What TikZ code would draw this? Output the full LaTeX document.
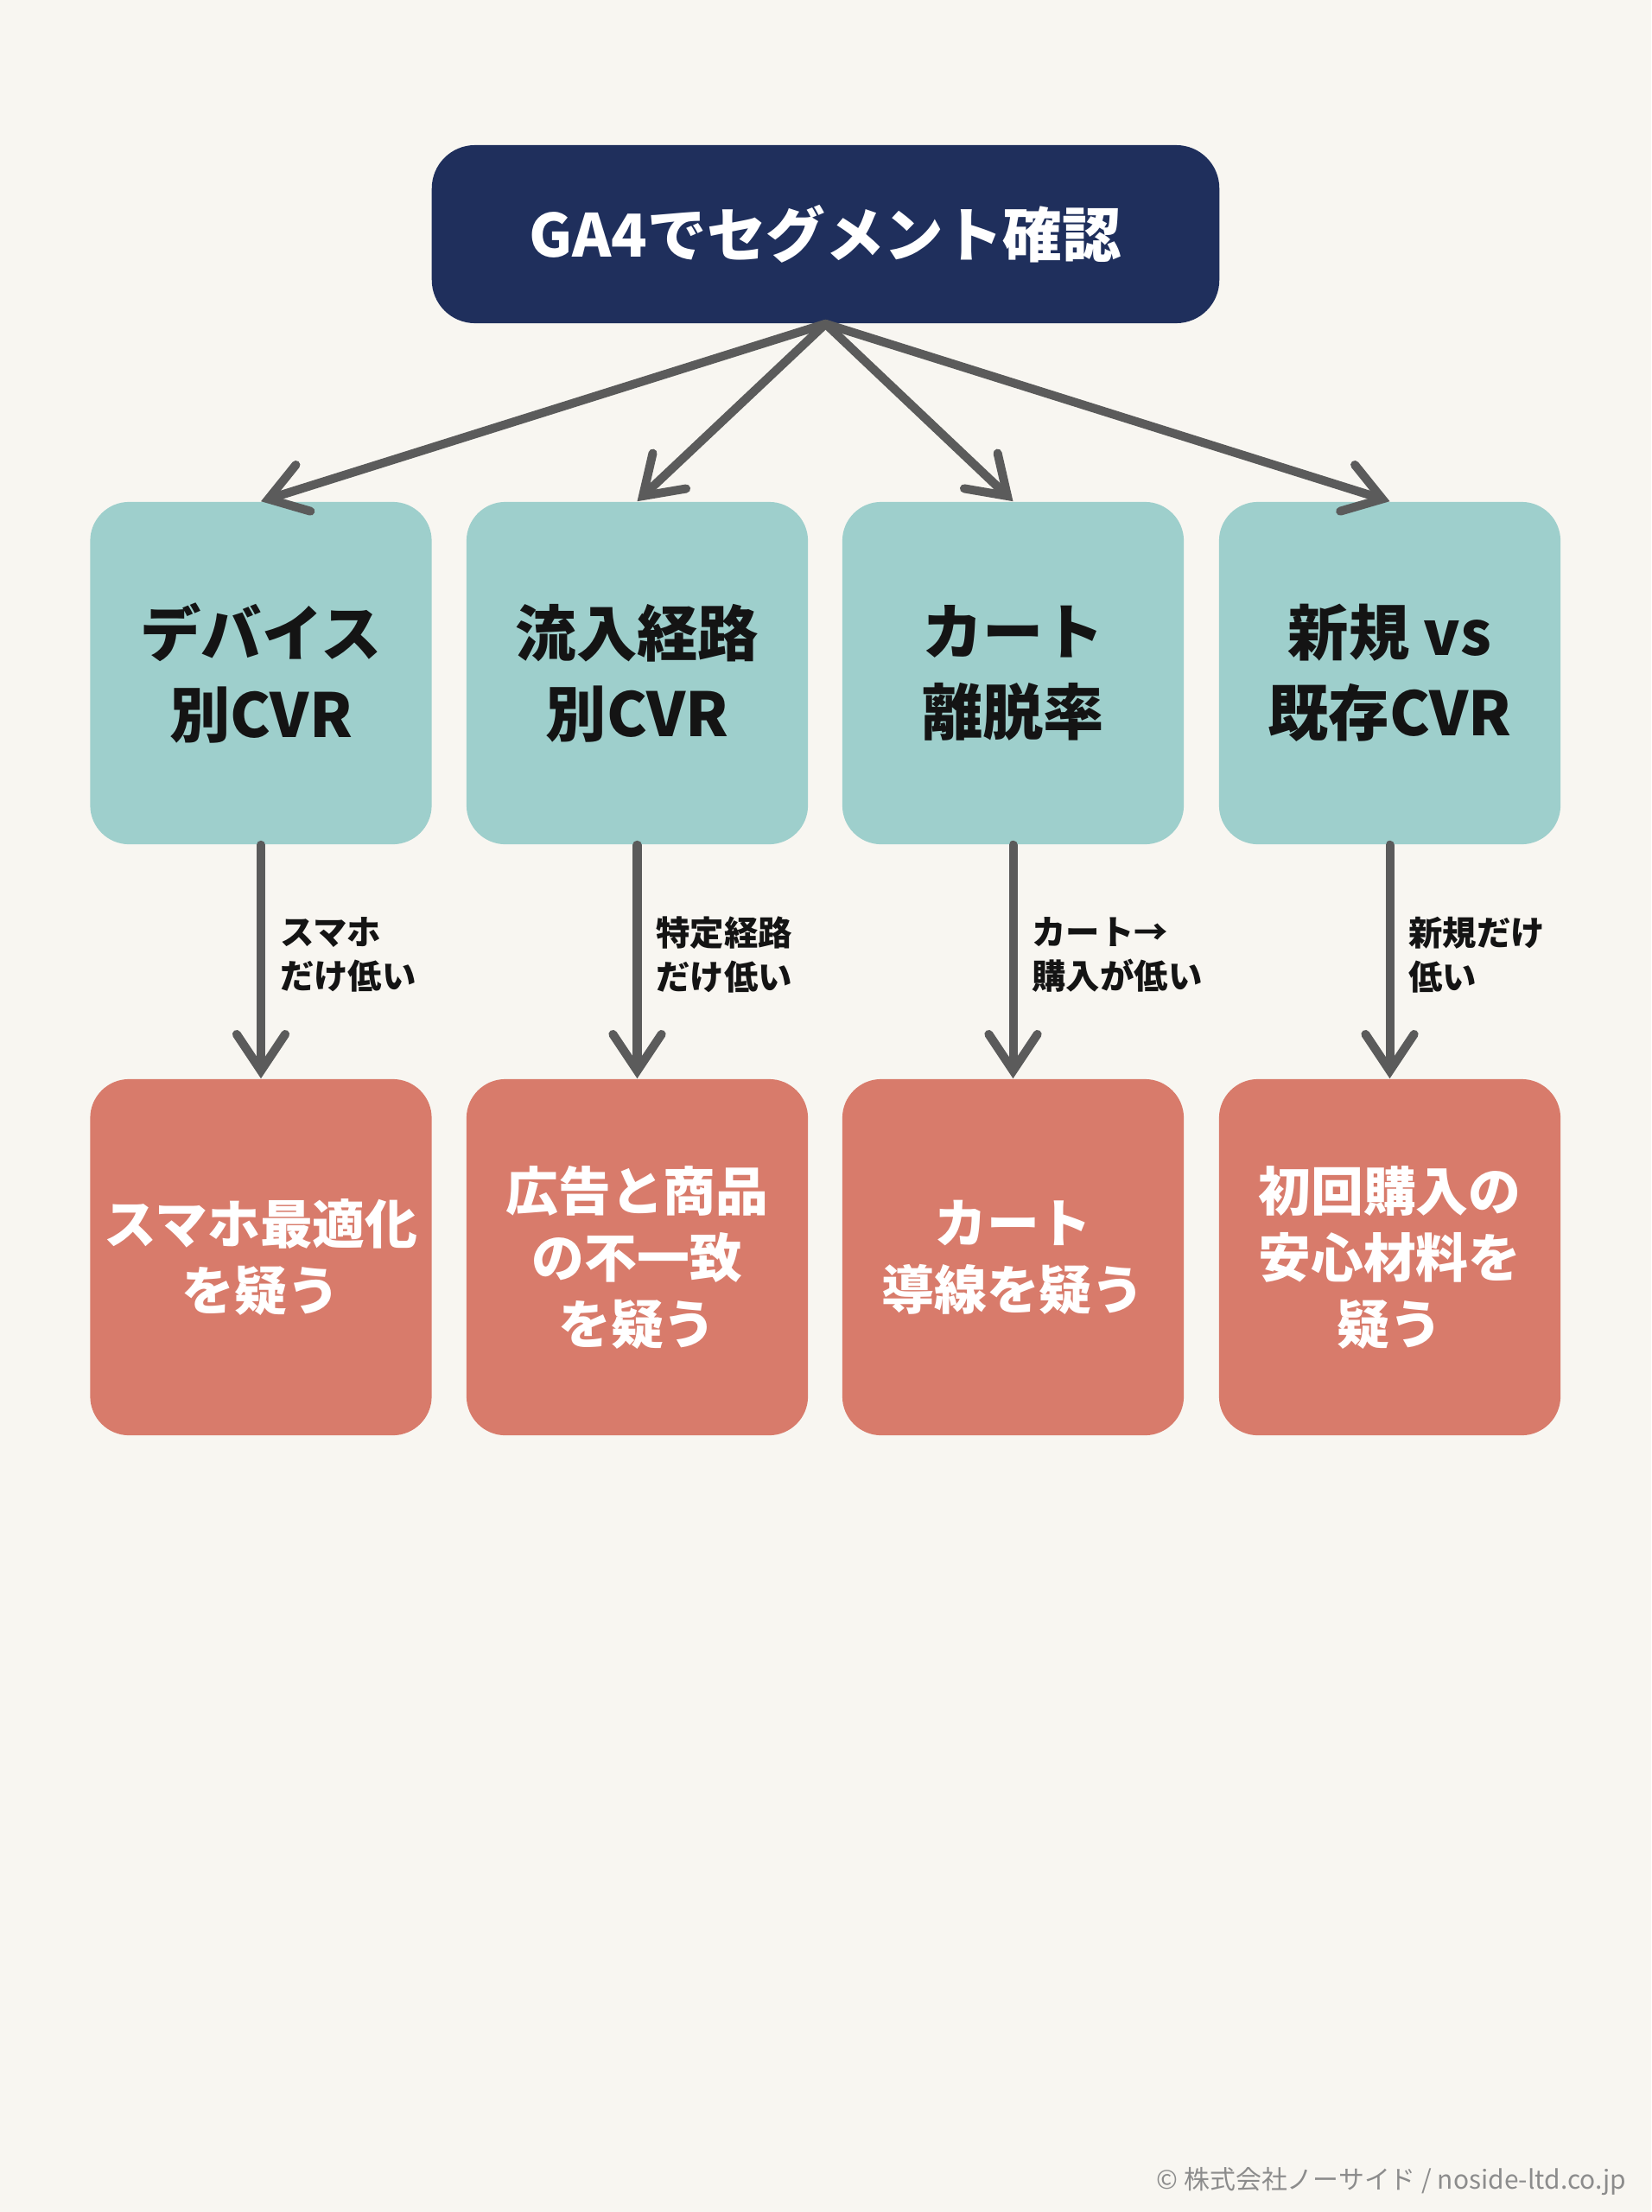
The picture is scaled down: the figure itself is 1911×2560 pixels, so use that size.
\documentclass[tikz,border=0pt]{standalone}
\usepackage{fontspec}
\setmainfont{Noto Sans CJK JP}
\usetikzlibrary{arrows.meta}
\definecolor{cbg}{HTML}{F8F6F1}
\definecolor{cnavy}{HTML}{1F2F5C}
\definecolor{cteal}{HTML}{9ECFCC}
\definecolor{csal}{HTML}{D87B6B}
\definecolor{carrow}{HTML}{5B5B5B}
\definecolor{cink}{HTML}{141414}
\definecolor{cfoot}{HTML}{8C8C8C}
\tikzset{
  topbox/.style={fill=cnavy, rounded corners=0.5cm, minimum width=9.11cm, minimum height=2.06cm, inner sep=0pt, text=white, align=center, font=\fontsize{19.5}{24}\selectfont\bfseries},
  midbox/.style={fill=cteal, rounded corners=0.45cm, minimum width=3.95cm, minimum height=3.96cm, inner sep=0pt, text=cink, align=center, font=\fontsize{20}{26.5}\selectfont\bfseries},
  botbox/.style={fill=csal, rounded corners=0.45cm, minimum width=3.95cm, minimum height=4.12cm, inner sep=0pt, text=white, align=center, font=\fontsize{17.3}{21.9}\selectfont\bfseries},
  conn/.style={draw=carrow, line width=2.85pt, line cap=round, -{Straight Barb[length=12pt, width=16pt, line cap=round]}},
  lbl/.style={anchor=west, inner sep=0pt, xshift=0.17cm, text=cink, align=left, font=\fontsize{11.2}{14.5}\selectfont\bfseries},
  foot/.style={anchor=east, inner sep=0pt, text=cfoot, font=\fontsize{8.5}{10}\selectfont}
}
\begin{document}
\begin{tikzpicture}[x=0.01cm, y=-0.01cm]
\fill[cbg] (0,0) rectangle (1911,2560);
\useasboundingbox (0,0) rectangle (1911,2560);

\node[topbox] (top) at (955.5,271) {GA4でセグメント確認};

\node[midbox] (m1) at (302,779) {デバイス\\別CVR};
\node[midbox] (m2) at (737.5,779) {流入経路\\別CVR};
\node[midbox] (m3) at (1172.5,779) {カート\\離脱率};
\node[midbox] (m4) at (1608.5,779) {新規 vs\\既存CVR};

\node[botbox] (b1) at (302,1455) {スマホ最適化\\を疑う};
\node[botbox] (b2) at (737.5,1455) {広告と商品\\の不一致\\を疑う};
\node[botbox] (b3) at (1172.5,1455) {カート\\導線を疑う};
\node[botbox] (b4) at (1608.5,1455) {初回購入の\\安心材料を\\疑う};

\draw[conn] (top.south) -- (m1.north);
\draw[conn] (top.south) -- (m2.north);
\draw[conn] (top.south) -- (m3.north);
\draw[conn] (top.south) -- (m4.north);

\draw[conn] (m1.south) -- node[lbl, pos=0.47] {スマホ\\だけ低い} (b1.north);
\draw[conn] (m2.south) -- node[lbl, pos=0.47] {特定経路\\だけ低い} (b2.north);
\draw[conn] (m3.south) -- node[lbl, pos=0.47] {カート→\\購入が低い} (b3.north);
\draw[conn] (m4.south) -- node[lbl, pos=0.47] {新規だけ\\低い} (b4.north);

\node[foot] (footer) at (1883,2525) {© 株式会社ノーサイド / noside-ltd.co.jp};
\end{tikzpicture}
\end{document}
